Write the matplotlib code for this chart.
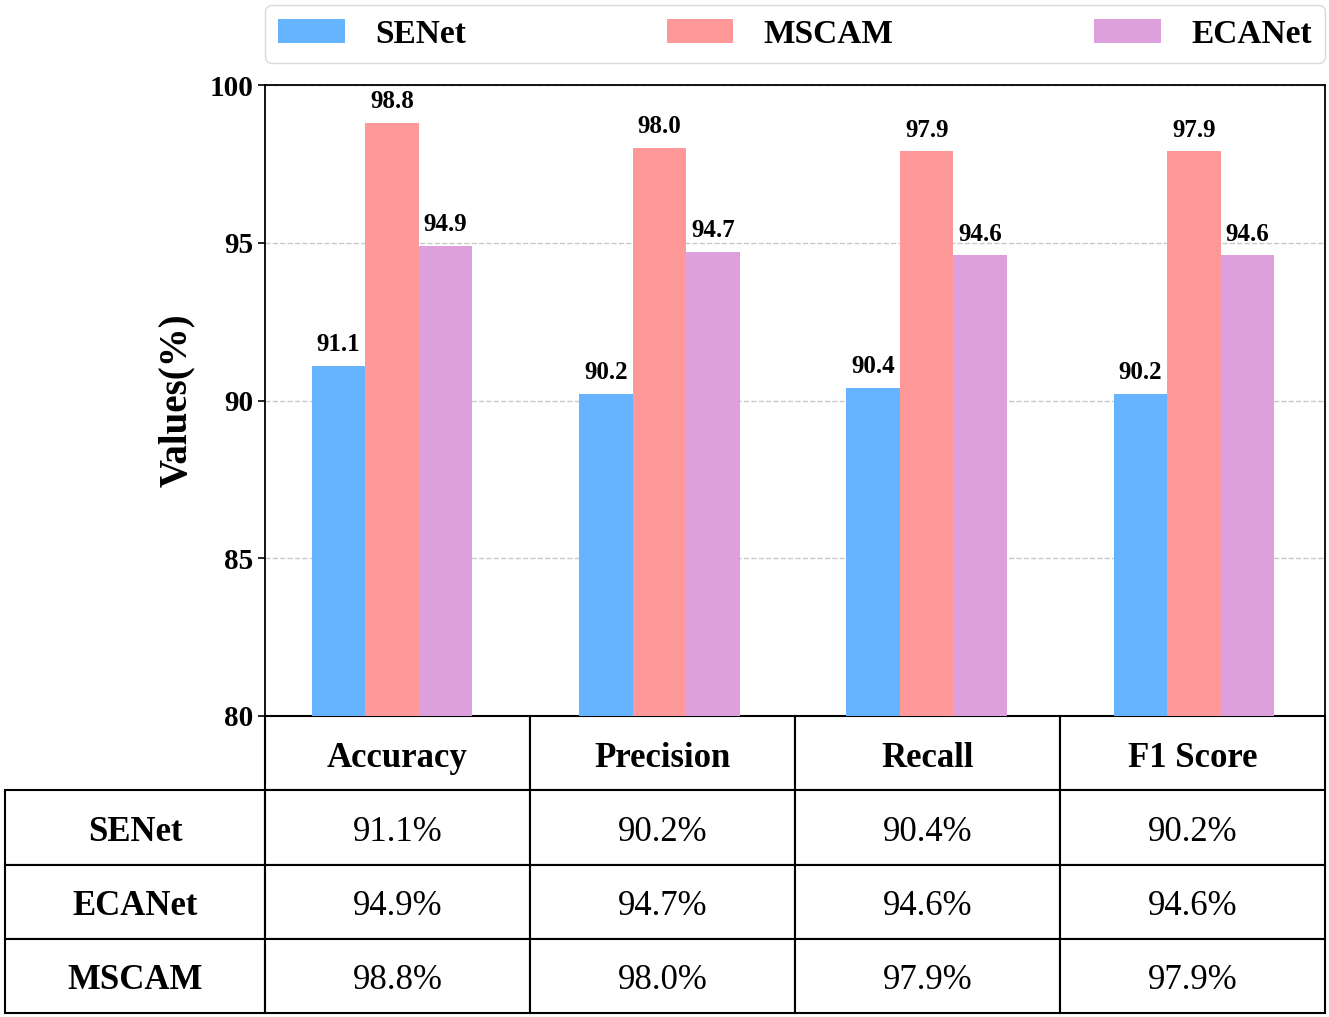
import matplotlib
matplotlib.use("Agg")
import matplotlib.pyplot as plt
from matplotlib.transforms import Affine2D
import numpy as np

plt.rcParams["font.family"] = "serif"
plt.rcParams["font.serif"] = ["Liberation Serif", "DejaVu Serif"]

# ---------- DATA ----------
metrics = ["Accuracy", "Precision", "Recall", "F1 Score"]
senet = [91.1, 90.2, 90.4, 90.2]
mscam = [98.8, 98.0, 97.9, 97.9]
ecanet = [94.9, 94.7, 94.6, 94.6]

bar_models = ["SENet", "MSCAM", "ECANet"]
bar_values = [senet, mscam, ecanet]
colors = ["#66b3ff", "#ff9999", "#dda0dd"]

table_models = ["SENet", "ECANet", "MSCAM"]
table_values = [senet, ecanet, mscam]

# ---------- FIGURE ----------
fig = plt.figure(figsize=(13.29, 10.17), dpi=100)
ax = fig.add_axes([265 / 1329, 1 - 716 / 1017, 1060 / 1329, 631 / 1017])

x = np.arange(len(metrics))
width = 0.2
for idx, (name, vals) in enumerate(zip(bar_models, bar_values)):
    pos = x + (idx - 1) * width
    bars = ax.bar(pos, vals, width=width, color=colors[idx], label=name, zorder=3)
    for b, v in zip(bars, vals):
        ax.annotate(f"{v:.1f}", (b.get_x() + b.get_width() / 2, v),
                    xytext=(0, 7), textcoords="offset points",
                    ha="center", va="bottom", fontsize=18, fontweight="bold")

ax.set_ylim(80, 100)
ax.set_xlim(-0.475, 3.49)
ax.set_yticks([80, 85, 90, 95, 100])
ax.set_xticks([])
ax.tick_params(axis="y", labelsize=21, length=5, width=1.2)
for t in ax.get_yticklabels():
    t.set_fontweight("bold")
ax.set_ylabel("Values(%)", fontsize=28, fontweight="bold", labelpad=10)
ax.grid(axis="y", linestyle="--", color="#c8c8c8", linewidth=1, zorder=0)
ax.set_axisbelow(True)
for s in ax.spines.values():
    s.set_linewidth(1.3)

# ---------- LEGEND ----------
ax.legend(loc="lower left", bbox_to_anchor=(0, 1.035, 1, 0.09), ncol=3,
          mode="expand", prop={"size": 24, "weight": "bold"},
          handlelength=2.0, handleheight=0.7, handletextpad=0.9,
          borderaxespad=0, fancybox=True, edgecolor="#d0d0d0")

# ---------- TABLE ----------
cell_text = [[name] + [f"{v:.1f}%" for v in vals]
             for name, vals in zip(table_models, table_values)]
col_widths = [260, 265, 265, 265, 265]
tbl = ax.table(cellText=cell_text, colLabels=[""] + metrics,
               colWidths=[w / sum(col_widths) for w in col_widths],
               cellLoc="center", colLoc="center",
               bbox=[-260 / 1060, -297 / 631, 1320 / 1060, 297 / 631])
tbl.auto_set_font_size(False)
for (r, c), cell in tbl.get_celld().items():
    cell.set_linewidth(1.5)
    txt = cell.get_text()
    txt.set_fontsize(25)
    # nudge text a little lower inside the cell
    txt.set_transform(Affine2D().translate(0, -5))
    if r == 0 or c == 0:
        txt.set_fontweight("bold")
    if r == 0 and c == 0:
        cell.visible_edges = ""

fig.savefig("out.png", dpi=100)
